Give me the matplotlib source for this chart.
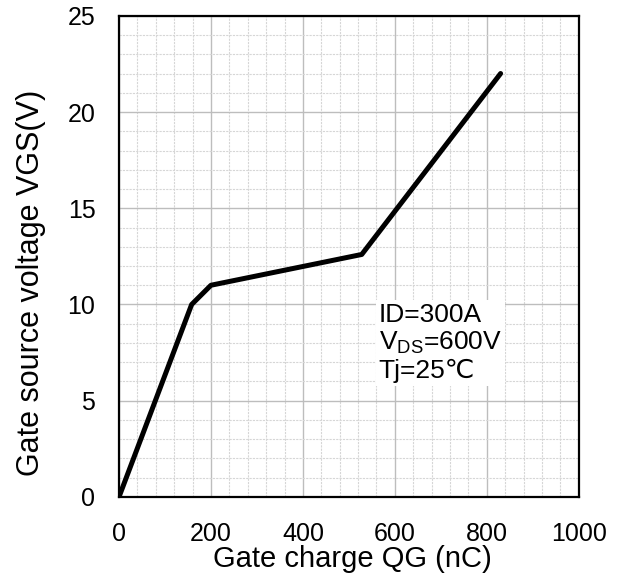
import matplotlib
matplotlib.use("Agg")
import matplotlib.pyplot as plt
from matplotlib.ticker import MultipleLocator

plt.rcParams['font.family'] = ['Liberation Sans', 'DejaVu Sans']
plt.rcParams['mathtext.fontset'] = 'custom'
plt.rcParams['mathtext.rm'] = 'Liberation Sans'

# gate charge curve
qg = [0, 158, 200, 528, 830]
vgs = [0, 10.0, 11.0, 12.6, 22.0]

fig = plt.figure(figsize=(6.23, 5.84), dpi=100)
ax = fig.add_axes([0.191, 0.149, 0.738, 0.824])

ax.plot(qg, vgs, color='black', linewidth=3.6, solid_capstyle='round')

ax.set_xlim(0, 1000)
ax.set_ylim(0, 25)
ax.xaxis.set_major_locator(MultipleLocator(200))
ax.xaxis.set_minor_locator(MultipleLocator(40))
ax.yaxis.set_major_locator(MultipleLocator(5))
ax.yaxis.set_minor_locator(MultipleLocator(1))
ax.grid(which='major', color='#bdbdbd', linewidth=1.0, linestyle='-')
ax.grid(which='minor', color='#d6d6d6', linewidth=0.8, linestyle=(0, (2, 1)))
ax.set_axisbelow(True)
ax.tick_params(which='both', length=0, labelsize=18)
ax.tick_params(axis='x', pad=18)
ax.tick_params(axis='y', pad=17)
for s in ax.spines.values():
    s.set_linewidth(1.6)

ax.set_xlabel('Gate charge QG (nC)', fontsize=21)
ax.set_ylabel('Gate source voltage VGS(V)', fontsize=22)
ax.xaxis.set_label_coords(0.507, -0.10)
ax.yaxis.set_label_coords(-0.159, 0.445)

ax.text(565, 10.1, 'ID=300A\nV$_{\\mathrm{DS}}$=600V\nTj=25\u2103', fontsize=19,
        ha='left', va='top', linespacing=1.15,
        bbox=dict(facecolor='white', edgecolor='none', pad=2))

fig.savefig('out.png', dpi=100)
